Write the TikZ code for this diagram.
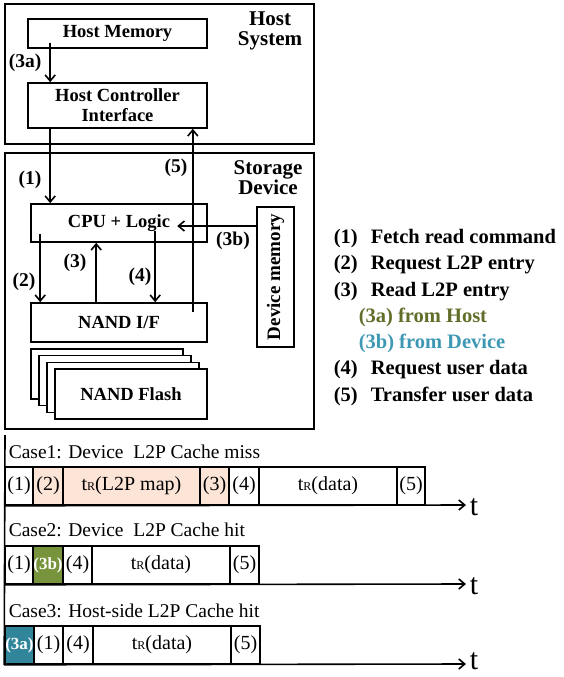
\documentclass[tikz,border=0pt]{standalone}
\usepackage{fontspec}
\setmainfont{Liberation Serif}
\usetikzlibrary{arrows.meta}
\definecolor{peach}{RGB}{252,228,214}
\definecolor{olive}{RGB}{119,147,60}
\definecolor{teal}{RGB}{49,133,155}
\definecolor{hostgreen}{RGB}{96,110,42}
\definecolor{devblue}{RGB}{62,152,180}
\newcommand{\tR}{t{\fontsize{12}{12}\selectfont R}}
\newcommand{\inv}[1]{{\bfseries\fontsize{17}{17}\selectfont\color{white}#1}}
\begin{document}
\begin{tikzpicture}[x=1pt, y=-1pt, line width=1.6pt,
    >={Straight Barb[length=6pt,width=10pt]},
    blk/.style = {draw, inner sep=0pt, align=center, font=\bfseries\fontsize{18.5}{20}\selectfont},
    lbl/.style = {inner sep=0pt, align=center, font=\bfseries\fontsize{19.5}{20}\selectfont},
    leg/.style = {anchor=base west, inner sep=0pt, font=\bfseries\fontsize{20.5}{22}\selectfont},
    seg/.style = {draw, inner sep=0pt, minimum height=38pt, font=\fontsize{20}{22}\selectfont},
    case/.style = {anchor=base west, inner sep=0pt, font=\fontsize{19.5}{22}\selectfont},
    tlab/.style = {anchor=base west, inner sep=0pt, font=\fontsize{30}{30}\selectfont}]
  \useasboundingbox (0,0) rectangle (563,677);
  \node[blk, minimum width=309pt, minimum height=140pt] (host) at (159.5,74) {};
  \node[lbl, font=\bfseries\fontsize{21}{20}\selectfont] (hostlbl) at (270,31) {Host\\System};
  \node[blk, minimum width=179pt, minimum height=29pt] (hmem) at (117.5,33.5) {Host Memory};
  \node[blk, minimum width=179pt, minimum height=45pt] (hci) at (117.5,105.5) {Host Controller\\Interface};
  \node[blk, minimum width=309pt, minimum height=276pt] (dev) at (159.5,291) {};
  \node[lbl, font=\bfseries\fontsize{21}{20}\selectfont] (devlbl) at (268,178) {Storage\\Device};
  \node[blk, minimum width=176pt, minimum height=38pt] (cpu) at (119,223) {CPU + Logic};
  \node[blk, minimum width=176pt, minimum height=39pt] (nandif) at (119,322.5) {NAND I/F};
  \node[blk, minimum width=37pt, minimum height=140pt] (devmem) at (275.5,277) {};
  \node[lbl, rotate=90, font=\bfseries\fontsize{19}{20}\selectfont] at (devmem.center) {Device memory};
  \foreach \i in {0,...,3}
    \node[blk, fill=white, minimum width=152pt, minimum height=50pt] (flash\i) at (107+8*\i, 374+6.67*\i) {};
  \node[blk, draw=none] at (flash3.center) {NAND Flash};

  \draw[->] ([xshift=23pt,yshift=6pt]hmem.south west) coordinate (p3a) -- (p3a |- hci.north);
  \draw[->] ([xshift=23pt]hci.south west) coordinate (p1) -- (p1 |- cpu.north);
  \draw[->] ([xshift=10pt,yshift=9pt]cpu.south west) coordinate (p2) -- (p2 |- nandif.north);
  \draw[->] ([xshift=66pt]nandif.north west) coordinate (p3) -- (p3 |- cpu.south);
  \draw[->] ([xshift=125pt,yshift=12pt]cpu.south west) coordinate (p4) -- (p4 |- nandif.north);
  \draw[->] ([xshift=-15pt,yshift=-10pt]nandif.north east) coordinate (p5) -- (p5 |- hci.south);
  \draw[->] ([yshift=51pt]devmem.west) coordinate (p3b) -- ++(-79,0);
  \node[lbl] (l3a) at (25,63) {(3a)};
  \node[lbl] (l1) at (30,180) {(1)};
  \node[lbl] (l5) at (176,168) {(5)};
  \node[lbl] (l2) at (24,282) {(2)};
  \node[lbl] (l3) at (75,263) {(3)};
  \node[lbl] (l4) at (140,277) {(4)};
  \node[lbl] (l3b) at (233,241) {(3b)};

  \foreach \n/\txt/\y [count=\i] in {(1)/Fetch read command/243, (2)/Request L2P entry/269.5,
      (3)/Read L2P entry/296, (4)/Request user data/374.5, (5)/Transfer user data/401} {
    \node[leg] (leg\i) at (333,\y) {\n};
    \node[leg] (legt\i) at (370,\y) {\txt};
  }
  \node[leg, text=hostgreen] (leg3a) at (358,322) {(3a) from Host};
  \node[leg, text=devblue] (leg3b) at (358,348) {(3b) from Device};

  \node[case] (case1) at (8,458) {Case1: Device\ \ L2P Cache miss};
  \foreach \a/\b/\t/\f [count=\i] in {5/33/(1)/white, 33/63/(2)/peach, 63/200/\tR(L2P map)/peach,
      200/229/(3)/peach, 229/259/(4)/white, 259/397/\tR(data)/white, 397/425/(5)/white}
    \node[seg, fill=\f, minimum width=\b-\a] (ra\i) at ({(\a+\b)/2},486) {\t};
  \coordinate (ta) at (466,505);
  \draw[->] (ra1.south west) -- (ta);
  \node[tlab] (t1) at (469,515) {t};

  \node[case] (case2) at (8,536) {Case2: Device\ \ L2P Cache hit};
  \foreach \a/\b/\t/\f [count=\i] in {5/33/(1)/white, 33/63/\inv{(3b)}/olive, 63/92/(4)/white,
      92/230/\tR(data)/white, 230/259/(5)/white}
    \node[seg, fill=\f, minimum width=\b-\a] (rb\i) at ({(\a+\b)/2},565) {\t};
  \coordinate (tb) at (466,584);
  \draw[->] (rb1.south west) -- (tb);
  \node[tlab] (t2) at (469,594) {t};

  \node[case] (case3) at (8,617) {Case3: Host-side L2P Cache hit};
  \foreach \a/\b/\t/\f [count=\i] in {5/34/\inv{(3a)}/teal, 34/63/(1)/white, 63/93/(4)/white,
      93/231/\tR(data)/white, 231/260/(5)/white}
    \node[seg, fill=\f, minimum width=\b-\a] (rc1\i) at ({(\a+\b)/2},645) {\t};
  \coordinate (tc) at (466,664);
  \draw[->] (rc11.south west) -- (tc);
  \node[tlab] (t3) at (469,669) {t};

  \coordinate (vtop) at (5,435);
  \draw (vtop) -- (rc11.south west);
\end{tikzpicture}
\end{document}
